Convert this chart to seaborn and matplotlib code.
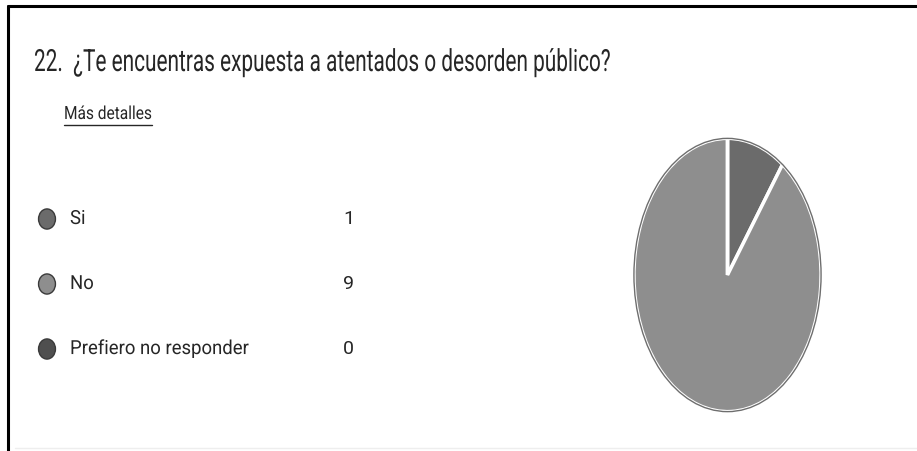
import matplotlib
matplotlib.use("Agg")
import matplotlib.pyplot as plt
import matplotlib.patheffects as pe
from matplotlib.transforms import Affine2D
from matplotlib.lines import Line2D
from matplotlib.path import Path
import seaborn as sns
import pandas as pd

# data
title = "22.  ¿Te encuentras expuesta a atentados o desorden público?"
link_text = "Más detalles"
categories = ["Si", "No", "Prefiero no responder"]
counts = [1, 9, 0]
colors = ["#6b6b6b", "#8e8e8e", "#4f4f4f"]


class Squeeze(pe.AbstractPathEffect):
    """Narrow glyphs horizontally around the text's left edge (the source font is condensed)."""
    def __init__(self, sx, x0):
        super().__init__()
        self.sx, self.x0 = sx, x0

    def draw_path(self, renderer, gc, tpath, affine, rgbFace=None):
        squeeze = Affine2D().translate(-self.x0, 0).scale(self.sx, 1).translate(self.x0, 0)
        renderer.draw_path(gc, tpath, affine + squeeze, rgbFace)


def fit_width(txt, x0, target):
    bb = txt.get_window_extent()
    txt.set_path_effects([Squeeze(target / bb.width, x0)])


sns.set_theme(style="white")
plt.rcParams["font.family"] = ["Roboto", "DejaVu Sans"]
ink = "#262626"

W, H = 917, 451
fig = plt.figure(figsize=(W / 100, H / 100), dpi=100)
fig.patch.set_facecolor("white")

# frame lines (top and left)
fig.add_artist(Line2D([8 / W, 1], [1 - 6 / H, 1 - 6 / H], color="black", lw=2.2))
fig.add_artist(Line2D([8 / W, 8 / W], [0, 1 - 6 / H], color="black", lw=2.2))
fig.add_artist(Line2D([15 / W, 1], [3 / H, 3 / H], color="#eeeeee", lw=1))

# title and link
t = fig.text(34 / W, 1 - 71 / H, title, fontsize=22, color=ink, va="baseline")
link = fig.text(64 / W, 1 - 119 / H, link_text, fontsize=13, color=ink, va="baseline")

# legend block (markers are slightly tall ovals, like the squeezed source)
oval = Path.unit_circle().transformed(Affine2D().scale(0.84, 1))
df = pd.DataFrame({"cat": categories, "count": counts, "pos": range(len(categories))})
lax = fig.add_axes([0, (H - 381.5) / H, 0.5, 195 / H])
sns.scatterplot(data=df, x=[47] * len(df), y="pos", hue="cat", palette=colors,
                marker=oval, s=210, edgecolor="#3a3a3a", linewidth=1, legend=False, ax=lax)
lax.set_xlim(0, W * 0.5)
lax.set_ylim(len(df) - 0.5, -0.5)
labels = []
for _, r in df.iterrows():
    labels.append(lax.text(70, r["pos"], r["cat"], fontsize=14, color=ink, va="center"))
    lax.text(343, r["pos"], str(r["count"]), fontsize=14, color=ink, va="center")
lax.axis("off")

fig.canvas.draw()
fit_width(t, 34, 576)
fit_width(link, 64, 88)
sx_lab = 180 / labels[2].get_window_extent().width
for lb in labels:
    lb.set_path_effects([Squeeze(sx_lab, 70)])
lb_bb = link.get_window_extent()
fig.add_artist(Line2D([64 / W, 152 / W], [(lb_bb.y0 - 2) / H] * 2, color=ink, lw=1))

# pie
pax = fig.add_axes([633 / W, (H - 413) / H, 189 / W, 276 / H])
pax.pie(df["count"], colors=colors, startangle=90, counterclock=False,
        wedgeprops=dict(edgecolor="white", linewidth=2.5))
pax.add_artist(plt.Circle((0, 0), 1, fill=False, edgecolor="#6e6e6e", lw=1))
pax.set_aspect("auto")
pax.set_xlim(-1.01, 1.01)
pax.set_ylim(-1.01, 1.01)
pax.axis("off")

fig.savefig("out.png", dpi=100, facecolor="white")
